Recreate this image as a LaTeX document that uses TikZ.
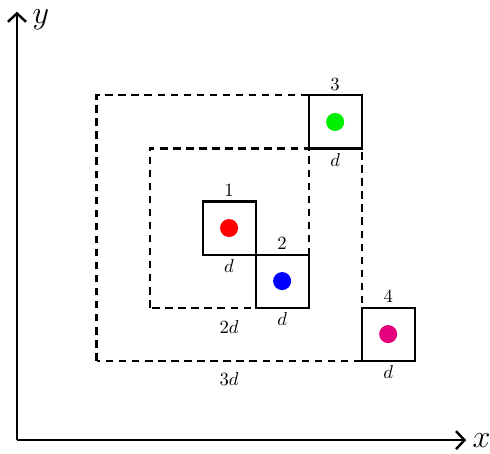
\documentclass[tikz,border=0pt]{standalone}
\usetikzlibrary{positioning,arrows.meta}
\definecolor{cGreen}{HTML}{00EE00}
\definecolor{cMagenta}{HTML}{E4007C}

\begin{document}
\begin{tikzpicture}[
    cell/.style={draw,line width=1.1pt,minimum size=1cm,inner sep=0pt},
    dot/.style={circle,inner sep=0pt,minimum size=0.34cm},
    lbl/.style={font=\normalsize,inner sep=2pt},
    zone/.style={dash pattern=on 4pt off 3pt,line width=1.1pt},
    axis/.style={line width=1.3pt,-{Straight Barb[length=1.6mm,width=3.4mm]}}]
  \useasboundingbox (-0.32,-0.26) rectangle (8.92,8.30);
  % axes
  \coordinate (o) at (0,0);
  \coordinate (xend) at (8.47,0);
  \coordinate (yend) at (0,8.08);
  \draw[axis] (o) -- (xend);
  \draw[axis] (o) -- (yend);
  \node[right=0pt of xend] (xl) {\LARGE$x$};
  \node (yl) at (0.45,7.92) {\LARGE$y$};
  % zones
  \draw[zone] (2.5,2.5) rectangle (5.5,5.5);
  \draw[zone] (1.5,1.5) rectangle (6.5,6.5);
  \node[lbl] (z2) at (4,2.13) {$2d$};
  \node[lbl] (z3) at (4,1.15) {$3d$};
  % cells
  \node[cell,label={[lbl]above:$1$},label={[lbl]below:$d$}] (q1) at (4,4) {};
  \node[cell,label={[lbl]above:$2$},label={[lbl]below:$d$}] (q2) at (5,3) {};
  \node[cell,label={[lbl]above:$3$},label={[lbl]below:$d$}] (q3) at (6,6) {};
  \node[cell,label={[lbl]above:$4$},label={[lbl]below:$d$}] (q4) at (7,2) {};
  \node[dot,fill=red] (p1) at (q1) {};
  \node[dot,fill=blue] (p2) at (q2) {};
  \node[dot,fill=cGreen] (p3) at (q3) {};
  \node[dot,fill=cMagenta] (p4) at (q4) {};
\end{tikzpicture}
\end{document}
